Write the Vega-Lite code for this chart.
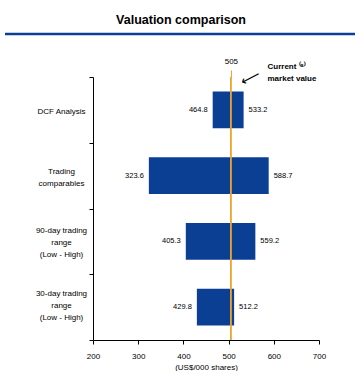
{
  "$schema": "https://vega.github.io/schema/vega-lite/v6.json",
  "padding": {"left": 3, "top": 14, "right": 0, "bottom": 0},
  "spacing": 21,
  "config": {
    "font": "Liberation Sans",
    "view": {"stroke": null},
    "axis": {"labelColor": "#000", "titleColor": "#000", "domainColor": "#000", "tickColor": "#000", "grid": false}
  },
  "data": {
    "values": [
      {"category": "DCF Analysis", "low": 464.8, "high": 533.2},
      {"category": "Trading comparables", "low": 323.6, "high": 588.7},
      {"category": "90-day trading range (Low - High)", "low": 405.3, "high": 559.2},
      {"category": "30-day trading range (Low - High)", "low": 429.8, "high": 512.2}
    ]
  },
  "vconcat": [
    {
      "width": 263,
      "height": 1,
      "data": {"values": [{"element": "title rule"}]},
      "title": {"text": "Valuation comparison", "fontSize": 12.5, "fontWeight": "bold", "anchor": "middle", "offset": 6, "dx": -43.5, "color": "#000"},
      "mark": {"type": "rule", "color": "#0B3F93", "strokeWidth": 2.5},
      "encoding": {
        "x": {"datum": 0, "type": "quantitative", "scale": {"domain": [0, 1], "range": [-88, 263]}, "axis": null},
        "x2": {"datum": 1},
        "y": {"datum": 0, "type": "quantitative", "scale": {"domain": [0, 1]}, "axis": null}
      }
    },
    {
      "width": 226,
      "height": 263,
      "layer": [
        {
          "mark": {"type": "bar", "color": "#0B3F93", "height": {"band": 0.56}},
          "encoding": {
            "y": {
              "field": "category", "type": "nominal", "sort": null,
              "scale": {"paddingInner": 0, "paddingOuter": 0},
              "axis": {
                "orient": "left", "labelAlign": "center", "labelBaseline": "middle", "labelPadding": 28,
                "labelOffset": {"condition": [
                  {"test": "datum.value == 'Trading comparables'", "value": -4.5},
                  {"test": "datum.value == '90-day trading range (Low - High)'", "value": -11},
                  {"test": "datum.value == '30-day trading range (Low - High)'", "value": -13.5}
                ], "value": 2},
                "tickSize": 4, "tickBand": "extent", "labelFontSize": 8, "labelLineHeight": 12, "minExtent": 88, "labelLimit": 100,
                "labelExpr": "datum.label == 'Trading comparables' ? ['Trading', 'comparables'] : datum.label == '90-day trading range (Low - High)' ? ['90-day trading', 'range', '(Low - High)'] : datum.label == '30-day trading range (Low - High)' ? ['30-day trading', 'range', '(Low - High)'] : datum.label",
                "title": "⟵", "titleX": 157, "titleY": 1, "titleAngle": -27, "titleAlign": "center", "titleBaseline": "middle",
                "titleFont": "DejaVu Sans", "titleFontSize": 14, "titleFontWeight": "normal"
              }
            },
            "x": {
              "field": "low", "type": "quantitative", "scale": {"domain": [200, 700], "nice": false},
              "axis": {"orient": "bottom", "values": [200, 300, 400, 500, 600, 700], "labelFlush": false, "tickSize": 4, "labelPadding": 8, "labelFontSize": 8,
                       "title": "(US$/000 shares)", "titleFontSize": 8, "titleFontWeight": "normal", "titlePadding": 3}
            },
            "x2": {"field": "high"}
          }
        },
        {
          "mark": {"type": "text", "align": "right", "baseline": "middle", "dx": -5, "fontSize": 7.5, "color": "#000"},
          "encoding": {
            "y": {"field": "category", "type": "nominal", "sort": null},
            "x": {"field": "low", "type": "quantitative", "axis": null},
            "text": {"field": "low", "type": "quantitative", "format": ".1f"}
          }
        },
        {
          "mark": {"type": "text", "align": "left", "baseline": "middle", "dx": 5, "fontSize": 7.5, "color": "#000"},
          "encoding": {
            "y": {"field": "category", "type": "nominal", "sort": null},
            "x": {"field": "high", "type": "quantitative", "axis": null},
            "text": {"field": "high", "type": "quantitative", "format": ".1f"}
          }
        },
        {
          "mark": {"type": "rule", "color": "#EEA52E", "strokeWidth": 1},
          "encoding": {
            "x": {
              "datum": 505, "type": "quantitative",
              "axis": {
                "orient": "top", "values": [505], "domain": false, "tickColor": "#EEA52E", "tickSize": 7, "labelPadding": 5, "labelFontSize": 8, "labelFlush": false,
                "title": ["Current     ⁽ᵃ⁾", "market value"], "titleX": 174, "titleY": -15, "titleAlign": "left", "titleBaseline": "top", "titleAngle": 0,
                "titleFontSize": 8, "titleFontWeight": "bold", "titleLineHeight": 12
              }
            }
          }
        }
      ],
      "resolve": {"axis": {"x": "independent"}}
    }
  ]
}
